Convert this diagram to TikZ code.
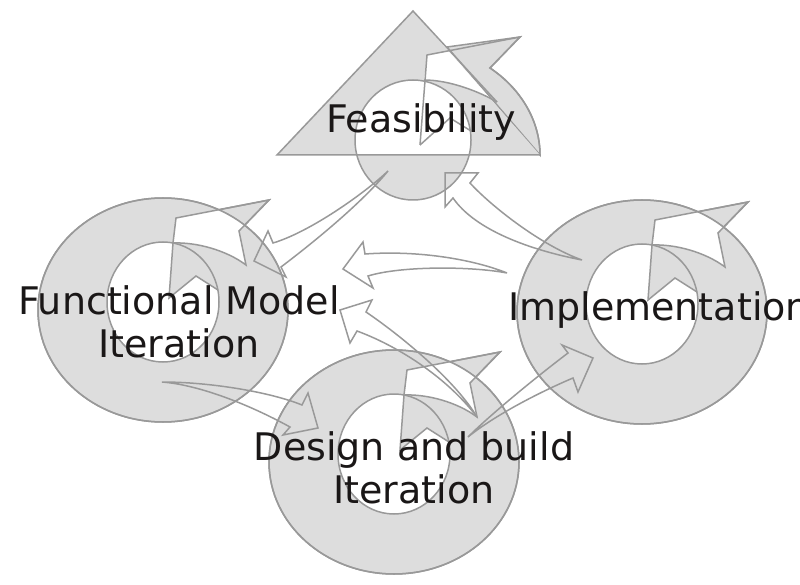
\documentclass[tikz,border=0pt]{standalone}
\usepackage{fontspec}
\setmainfont{DejaVu Sans}
\definecolor{ringfill}{HTML}{DDDDDD}
\definecolor{ringline}{HTML}{999999}
\definecolor{labeltext}{HTML}{1A1717}
\tikzset{
    ringstyle/.style={fill=ringfill, draw=ringline, line width=1.5pt},
    ringedge/.style={draw=ringline, line width=1.5pt},
    flow/.style={draw=ringline, line width=1.5pt, line join=miter},
    phase/.style={text=labeltext, font=\fontsize{38}{43}\selectfont, align=center, inner sep=0pt}
}
\begin{document}
\begin{tikzpicture}[x=1pt, y=-1pt]
        \useasboundingbox (0,0) rectangle (800,585);
        \fill[white] (0,0) rectangle (800,585);

        % feasibility
        \filldraw[ringstyle] (447,47) -- (520,37) -- (490,68) .. controls (520,88) and (540,120) .. (540,155) -- cycle;
        \fill[ringfill] (413,11) -- (277,155) -- (540,155) -- cycle;
        \fill[ringfill] (413,140) ellipse [x radius=58, y radius=60];
        \begin{scope}
            \clip (277,0) rectangle (540,155);
            \fill[white] (413,140) ellipse [x radius=58, y radius=60];
        \end{scope}
        \begin{scope}
            \clip (413,11) -- (277,155) -- (540,155) -- cycle;
            \fill[white] (427,55) -- (520,37) -- (490,68) -- (497,102) .. controls (480,92) and (450,80) .. (424,80) -- cycle;
        \end{scope}
        \draw[ringedge] (413,140) ellipse [x radius=58, y radius=60];
        \draw[ringedge] (497,102) .. controls (480,92) and (450,80) .. (424,80);
        \draw[ringedge] (420,145) -- (427,55) -- (520,37) -- (490,68) .. controls (520,88) and (540,120) .. (540,155);
        \draw[ringedge] (420,145) -- (450,118) -- (471,131);
        \draw[ringedge] (497,102) -- (413,11) -- (277,155) -- (540,155);

        % functional model iteration
        \begin{scope}[shift={(163,310)}]
            \filldraw[ringstyle] (13,-92) -- (106,-110) -- (76,-79) -- (83,-45) .. controls (63,-60) and (33,-68) .. (10,-67) -- cycle;
            \filldraw[ringstyle] (0,0) ellipse [x radius=125, y radius=112];
            \begin{scope}
                \clip (0,0) ellipse [x radius=125, y radius=112];
                \fill[white] (13,-92) -- (106,-110) -- (76,-79) -- (83,-45) .. controls (63,-60) and (33,-68) .. (10,-67) -- cycle;
            \end{scope}
            \fill[white] (0,-8) ellipse [x radius=56, y radius=60];
            \begin{scope}
                \clip (0,-8) ellipse [x radius=56, y radius=60];
                \fill[ringfill] (12,-90) -- (6,-12) -- (33,-34) -- (70,-11) -- (90,-11) -- (90,-90) -- cycle;
            \end{scope}
            \draw[ringedge] (0,0) ellipse [x radius=125, y radius=112];
            \draw[ringedge] (0,-8) ellipse [x radius=56, y radius=60];
            \draw[ringedge] (13,-92) -- (106,-110) -- (76,-79) -- (83,-45) .. controls (63,-60) and (33,-68) .. (10,-67) -- cycle;
            \draw[ringedge] (10,-67) -- (6,-12) -- (33,-34) -- (55,-20);
        \end{scope}

        % design and build iteration
        \begin{scope}[shift={(394,462)}]
            \filldraw[ringstyle] (13,-92) -- (106,-110) -- (76,-79) -- (83,-45) .. controls (63,-60) and (33,-68) .. (10,-67) -- cycle;
            \filldraw[ringstyle] (0,0) ellipse [x radius=125, y radius=112];
            \begin{scope}
                \clip (0,0) ellipse [x radius=125, y radius=112];
                \fill[white] (13,-92) -- (106,-110) -- (76,-79) -- (83,-45) .. controls (63,-60) and (33,-68) .. (10,-67) -- cycle;
            \end{scope}
            \fill[white] (0,-8) ellipse [x radius=56, y radius=60];
            \begin{scope}
                \clip (0,-8) ellipse [x radius=56, y radius=60];
                \fill[ringfill] (12,-90) -- (6,-12) -- (33,-34) -- (70,-11) -- (90,-11) -- (90,-90) -- cycle;
            \end{scope}
            \draw[ringedge] (0,0) ellipse [x radius=125, y radius=112];
            \draw[ringedge] (0,-8) ellipse [x radius=56, y radius=60];
            \draw[ringedge] (13,-92) -- (106,-110) -- (76,-79) -- (83,-45) .. controls (63,-60) and (33,-68) .. (10,-67) -- cycle;
            \draw[ringedge] (10,-67) -- (6,-12) -- (33,-34) -- (55,-20);
        \end{scope}

        % implementation
        \begin{scope}[shift={(642,312)}]
            \filldraw[ringstyle] (13,-92) -- (106,-110) -- (76,-79) -- (83,-45) .. controls (63,-60) and (33,-68) .. (10,-67) -- cycle;
            \filldraw[ringstyle] (0,0) ellipse [x radius=125, y radius=112];
            \begin{scope}
                \clip (0,0) ellipse [x radius=125, y radius=112];
                \fill[white] (13,-92) -- (106,-110) -- (76,-79) -- (83,-45) .. controls (63,-60) and (33,-68) .. (10,-67) -- cycle;
            \end{scope}
            \fill[white] (0,-8) ellipse [x radius=56, y radius=60];
            \begin{scope}
                \clip (0,-8) ellipse [x radius=56, y radius=60];
                \fill[ringfill] (12,-90) -- (6,-12) -- (33,-34) -- (70,-11) -- (90,-11) -- (90,-90) -- cycle;
            \end{scope}
            \draw[ringedge] (0,0) ellipse [x radius=125, y radius=112];
            \draw[ringedge] (0,-8) ellipse [x radius=56, y radius=60];
            \draw[ringedge] (13,-92) -- (106,-110) -- (76,-79) -- (83,-45) .. controls (63,-60) and (33,-68) .. (10,-67) -- cycle;
            \draw[ringedge] (10,-67) -- (6,-12) -- (33,-34) -- (55,-20);
        \end{scope}

        \coordinate (feas-out) at (388,171);
        \coordinate (feas-in) at (445,173);
        \coordinate (fm-out) at (162,382);
        \coordinate (fm-in) at (254,261);
        \coordinate (impl-out1) at (582,260);
        \coordinate (impl-out2) at (507,273);
        \coordinate (impl-in) at (593,358);
        \coordinate (design-out1) at (477,417);
        \coordinate (design-out2) at (468,437);
        \coordinate (design-in) at (318,428);
        \coordinate (mid-in1) at (343,269);
        \coordinate (mid-in2) at (340,310);

        \draw[flow] (feas-out) .. controls (365,193) and (310,232) .. (273,243) -- (268,231) -- (fm-in) -- (286,277) -- (281,267) .. controls (310,245) and (360,205) .. (feas-out) -- cycle;
        \draw[flow] (impl-out1) .. controls (540,245) and (490,205) .. (470,183) -- (478,173) -- (feas-in) -- (445,207) -- (453,198) .. controls (475,230) and (530,250) .. (impl-out1) -- cycle;
        \draw[flow] (impl-out2) .. controls (475,260) and (420,250) .. (365,254) -- (363,242) -- (mid-in1) -- (373,288) -- (368,276) .. controls (400,266) and (470,266) .. (impl-out2) -- cycle;
        \draw[flow] (design-out1) .. controls (455,380) and (400,335) .. (366,312) -- (372,300) -- (mid-in2) -- (350,343) -- (357,331) .. controls (395,345) and (445,375) .. (design-out1) -- cycle;
        \draw[flow] (design-out2) .. controls (490,415) and (535,378) .. (568,353) -- (562,345) -- (impl-in) -- (578,392) -- (573,378) .. controls (540,392) and (495,415) .. (design-out2) -- cycle;
        \draw[flow] (fm-out) .. controls (210,382) and (270,392) .. (302,405) -- (308,393) -- (design-in) -- (283,435) -- (290,427) .. controls (250,405) and (200,385) .. (fm-out) -- cycle;

        \node[phase, anchor=base] (feas) at (421,133) {Feasibility};
        \node[phase, anchor=base] (funcmodel) at (179,357) {Functional Model\\Iteration};
        \node[phase, anchor=base west] (impl) at (508,320) {Implementation};
        \node[phase, anchor=base] (design) at (414,503) {Design and build\\Iteration};
\end{tikzpicture}
\end{document}
